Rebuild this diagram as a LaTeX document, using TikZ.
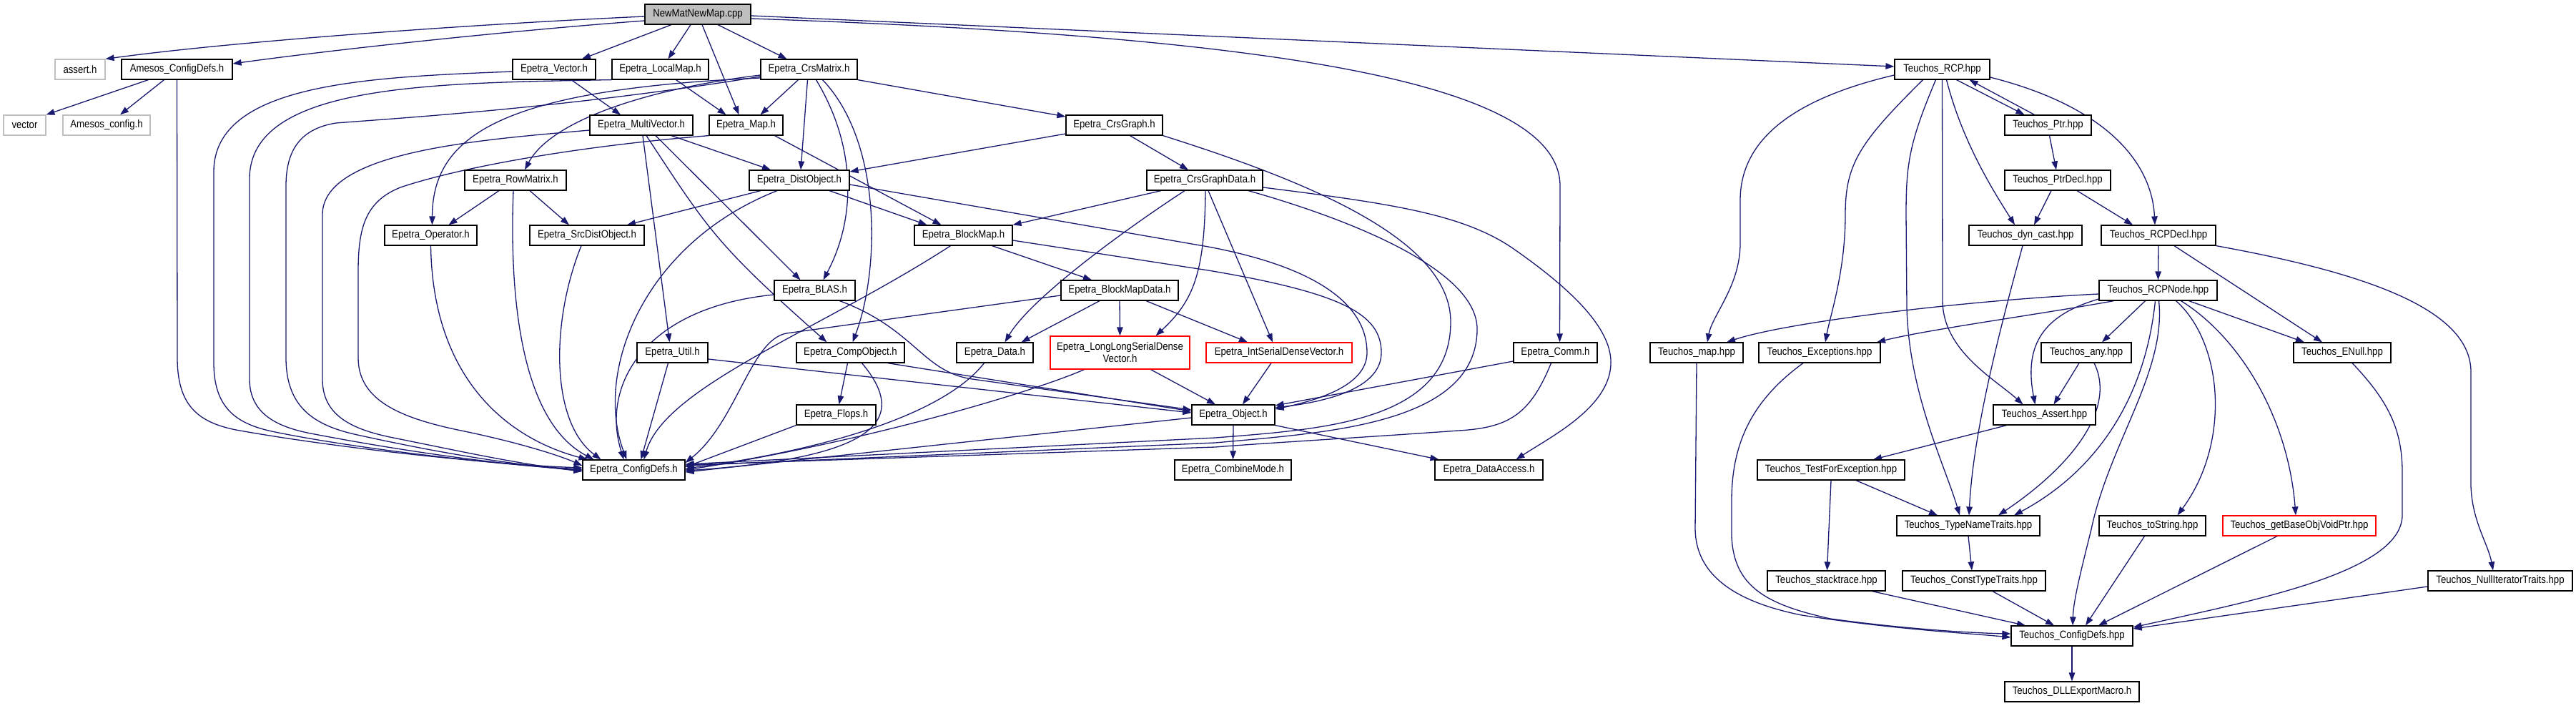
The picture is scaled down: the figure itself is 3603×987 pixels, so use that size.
\documentclass[tikz,border=0pt]{standalone}
\usepackage{fontspec}
\setmainfont{Liberation Sans}[FakeStretch=0.88]
\usetikzlibrary{arrows.meta}
\definecolor{edgeblue}{HTML}{191970}
\definecolor{rootgray}{HTML}{BFBFBF}
\definecolor{graybd}{HTML}{BFBFBF}
\definecolor{redbd}{HTML}{FF0000}
\pgfdeclarelayer{bg}
\pgfsetlayers{bg,main}
\tikzset{
  nd/.style={draw=black, line width=1.2pt, fill=white, minimum height=28pt, inner sep=0pt,
    font=\fontsize{15}{17}\selectfont, text=black},
  grynd/.style={nd, draw=graybd},
  rednd/.style={nd, draw=redbd},
  edg/.style={draw=edgeblue, line width=1.3pt, -{Triangle[length=12pt,width=8.5pt]}}
}
\begin{document}
\begin{tikzpicture}[x=1pt,y=-1pt]
\useasboundingbox (0,0) rectangle (3603,987);
% ---------- nodes ----------
\node[nd, fill=rootgray, minimum width=148pt] (root) at (976,20) {NewMatNewMap.cpp};
\node[grynd, minimum width=70pt] (assertH) at (112,97) {assert.h};
\node[nd, minimum width=155pt] (amesosCD) at (247.5,97) {Amesos\_ConfigDefs.h};
\node[nd, minimum width=116pt] (vectorH) at (775,97) {Epetra\_Vector.h};
\node[nd, minimum width=135pt] (localMap) at (923.5,97) {Epetra\_LocalMap.h};
\node[nd, minimum width=135pt] (crsMatrix) at (1131.5,97) {Epetra\_CrsMatrix.h};
\node[nd, minimum width=133pt] (rcp) at (2716.5,97) {Teuchos\_RCP.hpp};
\node[grynd, minimum width=59pt] (vector) at (34.5,175) {vector};
\node[grynd, minimum width=122pt] (amesosCfg) at (149,175) {Amesos\_config.h};
\node[nd, minimum width=144pt] (multiVector) at (897,175) {Epetra\_MultiVector.h};
\node[nd, minimum width=103pt] (map) at (1043.5,175) {Epetra\_Map.h};
\node[nd, minimum width=135pt] (crsGraph) at (1558.5,175) {Epetra\_CrsGraph.h};
\node[nd, minimum width=121pt] (ptr) at (2864.5,175) {Teuchos\_Ptr.hpp};
\node[nd, minimum width=142pt] (rowMatrix) at (721,252) {Epetra\_RowMatrix.h};
\node[nd, minimum width=140pt] (distObject) at (1118,252) {Epetra\_DistObject.h};
\node[nd, minimum width=162pt] (crsGraphData) at (1685,252) {Epetra\_CrsGraphData.h};
\node[nd, minimum width=148pt] (ptrDecl) at (2878,252) {Teuchos\_PtrDecl.hpp};
\node[nd, minimum width=129pt] (operator) at (602.5,329) {Epetra\_Operator.h};
\node[nd, minimum width=160pt] (srcDist) at (821,329) {Epetra\_SrcDistObject.h};
\node[nd, minimum width=137pt] (blockMap) at (1347.5,329) {Epetra\_BlockMap.h};
\node[nd, minimum width=158pt] (dynCast) at (2833,329) {Teuchos\_dyn\_cast.hpp};
\node[nd, minimum width=160pt] (rcpDecl) at (3019,329) {Teuchos\_RCPDecl.hpp};
\node[nd, minimum width=113pt] (blas) at (1139.5,406) {Epetra\_BLAS.h};
\node[nd, minimum width=164pt] (blockMapData) at (1566,406) {Epetra\_BlockMapData.h};
\node[nd, minimum width=165pt] (rcpNode) at (3018.5,406) {Teuchos\_RCPNode.hpp};
\node[nd, minimum width=99pt] (util) at (940.5,493) {Epetra\_Util.h};
\node[nd, minimum width=151pt] (compObject) at (1189.5,493) {Epetra\_CompObject.h};
\node[nd, minimum width=107pt] (data) at (1391.5,493) {Epetra\_Data.h};
\node[rednd, minimum width=195pt, minimum height=46pt, align=center] (longLong) at (1566.5,493) {Epetra\_LongLongSerialDense\\Vector.h};
\node[rednd, minimum width=204pt] (intSerial) at (1789,493) {Epetra\_IntSerialDenseVector.h};
\node[nd, minimum width=117pt] (comm) at (2175.5,493) {Epetra\_Comm.h};
\node[nd, minimum width=130pt] (tmap) at (2373,493) {Teuchos\_map.hpp};
\node[nd, minimum width=170pt] (exceptions) at (2545,493) {Teuchos\_Exceptions.hpp};
\node[nd, minimum width=126pt] (any) at (2918,493) {Teuchos\_any.hpp};
\node[nd, minimum width=136pt] (enull) at (3276,493) {Teuchos\_ENull.hpp};
\node[nd, minimum width=111pt] (flops) at (1169.5,580) {Epetra\_Flops.h};
\node[nd, minimum width=116pt] (object) at (1725,580) {Epetra\_Object.h};
\node[nd, minimum width=143pt] (tassert) at (2859.5,580) {Teuchos\_Assert.hpp};
\node[nd, minimum width=143pt] (epetraCD) at (886.5,657) {Epetra\_ConfigDefs.h};
\node[nd, minimum width=163pt] (combineMode) at (1724.5,657) {Epetra\_CombineMode.h};
\node[nd, minimum width=151pt] (dataAccess) at (2082.5,657) {Epetra\_DataAccess.h};
\node[nd, minimum width=206pt] (testForExc) at (2561,657) {Teuchos\_TestForException.hpp};
\node[nd, minimum width=200pt] (typeName) at (2753,735) {Teuchos\_TypeNameTraits.hpp};
\node[nd, minimum width=149pt] (toString) at (3010.5,735) {Teuchos\_toString.hpp};
\node[rednd, minimum width=214pt] (getBase) at (3216,735) {Teuchos\_getBaseObjVoidPtr.hpp};
\node[nd, minimum width=165pt] (stacktrace) at (2554.5,812) {Teuchos\_stacktrace.hpp};
\node[nd, minimum width=200pt] (constType) at (2761,812) {Teuchos\_ConstTypeTraits.hpp};
\node[nd, minimum width=202pt] (nullIter) at (3497,812) {Teuchos\_NullIteratorTraits.hpp};
\node[nd, minimum width=170pt] (teuchosCD) at (2898,889) {Teuchos\_ConfigDefs.hpp};
\node[nd, minimum width=188pt] (dll) at (2898,967) {Teuchos\_DLLExportMacro.h};
% ---------- edges ----------
\begin{pgfonlayer}{bg}
\fill[white] (0,0) rectangle (3603,987);
% root
\draw[edg] ([yshift=-3pt]root.west) .. controls (700,32) and (350,55) .. (assertH.north east);
\draw[edg] ([yshift=-9pt]root.west) .. controls (750,40) and (500,65) .. ([yshift=8pt]amesosCD.east);
\draw[edg] ([xshift=-37pt]root.south) -- ([xshift=39pt]vectorH.north);
\draw[edg] ([xshift=-10pt]root.south) -- ([xshift=11pt]localMap.north);
\draw[edg] ([xshift=6pt]root.south) -- ([xshift=-10pt]map.north);
\draw[edg] ([xshift=28pt]root.south) -- ([xshift=-31pt]crsMatrix.north);
\draw[edg] ([yshift=-2pt]root.east) -- ([yshift=4pt]rcp.west);
\draw[edg] ([yshift=-6pt]root.east) .. controls (1750,50) and (2182,110) .. (2182,260) -- ([xshift=6pt]comm.north);
% amesos
\draw[edg] ([xshift=-40pt]amesosCD.south) -- ([xshift=30pt]vector.north);
\draw[edg] ([xshift=-18pt]amesosCD.south) -- ([xshift=19pt]amesosCfg.north);
\draw[edg] (amesosCD.south) -- (248,500) .. controls (248,565) and (275,590) .. (330,601) .. controls (480,628) and (700,650) .. ([yshift=3pt]epetraCD.west);
% left bundle into Epetra_ConfigDefs
\draw[edg] ([yshift=-3pt]vectorH.west) .. controls (520,108) and (299,115) .. (299,240) -- (299,507) .. controls (299,570) and (330,592) .. (380,603) .. controls (500,628) and (700,650) .. ([yshift=1pt]epetraCD.west);
\draw[edg] (localMap.south west) .. controls (600,116) and (349,118) .. (349,250) -- (349,530) .. controls (349,580) and (390,598) .. (440,607) .. controls (560,630) and (700,650) .. (epetraCD.west);
\draw[edg] ([yshift=-10pt]crsMatrix.west) .. controls (800,150) and (560,165) .. (470,172) .. controls (420,180) and (400,210) .. (400,260) -- (400,500) .. controls (400,570) and (440,595) .. (500,608) .. controls (600,630) and (700,648) .. ([yshift=-1pt]epetraCD.west);
\draw[edg] ([yshift=-7pt]multiVector.west) .. controls (680,195) and (451,210) .. (451,300) -- (451,530) .. controls (451,580) and (490,600) .. (550,612) .. controls (640,630) and (720,648) .. ([yshift=-2pt]epetraCD.west);
\draw[edg] (map.south west) .. controls (800,205) and (640,235) .. (560,262) .. controls (510,282) and (501,320) .. (501,380) -- (501,500) .. controls (501,560) and (560,585) .. (650,603) .. controls (740,622) and (790,640) .. ([yshift=6pt]epetraCD.west);
% vector, localmap, crsmatrix
\draw[edg] ([xshift=24pt]vectorH.south) -- ([xshift=-29pt]multiVector.north);
\draw[edg] ([xshift=22pt]localMap.south) -- ([xshift=-28pt]map.north);
\draw[edg] ([xshift=-15pt]crsMatrix.south) -- ([xshift=20pt]map.north);
\draw[edg] ([xshift=-2pt]crsMatrix.south) -- ([xshift=2pt]distObject.north);
\draw[edg] (crsMatrix.south east) -- ([yshift=12pt]crsGraph.west);
\draw[edg] ([yshift=-8pt]crsMatrix.west) .. controls (900,125) and (770,170) .. ([xshift=13pt]rowMatrix.north);
\draw[edg] ([yshift=-12pt]crsMatrix.west) .. controls (700,125) and (605,190) .. ([xshift=2pt]operator.north);
\draw[edg] ([xshift=10pt]crsMatrix.south) .. controls (1195,200) and (1200,300) .. ([xshift=12pt]blas.north);
\draw[edg] ([xshift=19pt]crsMatrix.south) .. controls (1235,200) and (1230,380) .. ([xshift=3pt]compObject.north);
% multivector
\draw[edg] ([xshift=42pt]multiVector.south) -- ([xshift=-40pt]distObject.north);
\draw[edg] ([xshift=20pt]multiVector.south) -- ([xshift=-20pt]blas.north);
\draw[edg] ([xshift=2pt]multiVector.south) -- ([xshift=-4pt]util.north);
\draw[edg] ([xshift=7pt]multiVector.south) .. controls (990,320) and (1000,340) .. ([xshift=-33pt]compObject.north);
% map
\draw[edg] ([xshift=40pt]map.south) -- ([xshift=-31pt]blockMap.north);
% rowmatrix
\draw[edg] ([xshift=-23pt]rowMatrix.south) -- ([xshift=25pt]operator.north);
\draw[edg] ([xshift=20pt]rowMatrix.south) -- ([xshift=-25pt]srcDist.north);
\draw[edg] ([xshift=-3pt]rowMatrix.south) .. controls (712,420) and (730,590) .. ([xshift=-56pt]epetraCD.north);
% distobject
\draw[edg] ([xshift=-54pt]distObject.south) -- ([xshift=56pt]srcDist.north);
\draw[edg] ([xshift=42pt]distObject.south) -- ([xshift=-51pt]blockMap.north);
\draw[edg] ([yshift=-6pt]distObject.east) -- (1690,345) .. controls (1850,375) and (1912,430) .. (1912,493) .. controls (1912,540) and (1840,560) .. ([yshift=8pt]object.east);
\draw[edg] ([xshift=-31pt]distObject.south) .. controls (900,340) and (830,520) .. ([xshift=-10pt]epetraCD.north);
% srcdist, operator
\draw[edg] ([xshift=-8pt]srcDist.south) .. controls (770,450) and (770,590) .. ([xshift=-46pt]epetraCD.north);
\draw[edg] (operator.south) .. controls (605,520) and (700,610) .. ([xshift=-65pt]epetraCD.north);
% crsgraph
\draw[edg] ([yshift=-12pt]crsGraph.west) -- ([yshift=12pt]distObject.east);
\draw[edg] ([xshift=22pt]crsGraph.south) -- ([xshift=-23pt]crsGraphData.north);
\draw[edg] (crsGraph.south east) .. controls (1850,260) and (2029,340) .. (2029,450) .. controls (2029,590) and (1850,600) .. (1700,612) -- ([yshift=8pt]epetraCD.east);
% crsgraphdata
\draw[edg] ([xshift=-61pt]crsGraphData.south) -- (blockMap.north east);
\draw[edg] ([xshift=-28pt]crsGraphData.south) .. controls (1560,330) and (1440,420) .. ([xshift=14pt]data.north);
\draw[edg] ([xshift=1pt]crsGraphData.south) .. controls (1685,380) and (1670,420) .. ([xshift=50pt]longLong.north);
\draw[edg] ([xshift=5pt]crsGraphData.south) -- ([xshift=-9pt]intSerial.north);
\draw[edg] ([yshift=-10pt]crsGraphData.east) .. controls (1950,285) and (2050,300) .. (2120,350) .. controls (2220,420) and (2255,470) .. (2253,510) .. controls (2250,570) and (2170,610) .. ([xshift=38pt]dataAccess.north);
\draw[edg] ([xshift=61pt]crsGraphData.south) .. controls (1900,310) and (2066,380) .. (2066,460) .. controls (2066,595) and (1850,605) .. (1700,619) -- ([yshift=6pt]epetraCD.east);
% blockmap
\draw[edg] ([xshift=40pt]blockMap.south) -- ([xshift=-39pt]blockMapData.north);
\draw[edg] ([yshift=-7pt]blockMap.east) -- (1690,378) .. controls (1880,410) and (1932,440) .. (1932,493) .. controls (1932,545) and (1850,562) .. ([yshift=10pt]object.east);
\draw[edg] ([xshift=-18pt]blockMap.south) .. controls (1150,460) and (930,540) .. ([xshift=14pt]epetraCD.north);
% blas
\draw[edg] ([yshift=-6pt]blas.west) .. controls (900,430) and (840,540) .. ([xshift=-14pt]epetraCD.north);
\draw[edg] ([xshift=35pt]blas.south) .. controls (1280,460) and (1290,520) .. (1360,530) -- ([yshift=7pt]object.west);
% blockmapdata
\draw[edg] ([xshift=-28pt]blockMapData.south) -- ([xshift=37pt]data.north);
\draw[edg] (blockMapData.south) -- (longLong.north);
\draw[edg] ([xshift=37pt]blockMapData.south) -- ([xshift=-44pt]intSerial.north);
\draw[edg] ([yshift=-7pt]blockMapData.west) -- (1100,466) .. controls (1050,475) and (1030,590) .. ([yshift=10pt]epetraCD.east);
% util
\draw[edg] ([xshift=-6pt]util.south) -- ([xshift=10pt]epetraCD.north);
\draw[edg] ([yshift=-9pt]util.east) -- ([yshift=3pt]object.west);
% compobject
\draw[edg] ([xshift=-4pt]compObject.south) -- ([xshift=4pt]flops.north);
\draw[edg] ([xshift=52pt]compObject.south) -- ([yshift=5pt]object.west);
\draw[edg] ([xshift=16pt]compObject.south) .. controls (1275,590) and (1220,640) .. ([yshift=-1pt]epetraCD.east);
% data, longlong, intserial, flops
\draw[edg] ([xshift=-15pt]data.south) .. controls (1320,580) and (1150,630) .. ([yshift=2pt]epetraCD.east);
\draw[edg] ([xshift=43pt]longLong.south) -- ([xshift=-25pt]object.north);
\draw[edg] ([xshift=-50pt]longLong.south) .. controls (1440,550) and (1200,620) .. (epetraCD.east);
\draw[edg] ([xshift=-11pt]intSerial.south) -- ([xshift=13pt]object.north);
\draw[edg] (flops.south west) -- ([yshift=4pt]epetraCD.east);
% object
\draw[edg] (object.south) -- (combineMode.north);
\draw[edg] (object.south east) -- ([xshift=-70pt]dataAccess.north);
\draw[edg] ([yshift=-4pt]object.west) -- ([yshift=-3pt]epetraCD.east);
% comm
\draw[edg] ([yshift=-12pt]comm.west) -- ([yshift=13pt]object.east);
\draw[edg] ([xshift=-6pt]comm.south) .. controls (2140,580) and (2110,598) .. (2040,602) .. controls (1900,612) and (1760,620) .. (1700,625) -- ([yshift=7pt]epetraCD.east);
% ---------- Teuchos ----------
\draw[edg] ([xshift=20pt]rcp.south) -- ([xshift=-33pt]ptr.north);
\draw[edg] ([xshift=-19pt]ptr.north) -- ([xshift=38pt]rcp.south);
\draw[edg] ([xshift=6pt]rcp.south) .. controls (2745,200) and (2790,270) .. ([xshift=-15pt]dynCast.north);
\draw[edg] ([yshift=-11pt]rcp.east) .. controls (2950,150) and (3010,230) .. ([xshift=-5pt]rcpDecl.north);
\draw[edg] ([yshift=-8pt]rcp.west) .. controls (2500,140) and (2434,200) .. (2434,280) -- (2434,340) .. controls (2434,400) and (2395,440) .. ([xshift=15pt]tmap.north);
\draw[edg] ([xshift=-27pt]rcp.south) .. controls (2600,200) and (2581,230) .. (2581,300) .. controls (2581,380) and (2560,440) .. ([xshift=8pt]exceptions.north);
\draw[edg] ([xshift=-9pt]rcp.south) .. controls (2670,200) and (2666,230) .. (2666,300) -- (2667,430) .. controls (2670,550) and (2720,650) .. ([xshift=-12pt]typeName.north);
\draw[edg] (rcp.south) -- (2717,420) .. controls (2717,490) and (2790,530) .. ([xshift=-30pt]tassert.north);
\draw[edg] ([xshift=2pt]ptr.south) -- ([xshift=-2pt]ptrDecl.north);
\draw[edg] ([xshift=-9pt]ptrDecl.south) -- ([xshift=12pt]dynCast.north);
\draw[edg] ([xshift=27pt]ptrDecl.south) -- ([xshift=-36pt]rcpDecl.north);
\draw[edg] ([xshift=-4pt]dynCast.south) .. controls (2800,450) and (2760,600) .. ([xshift=1pt]typeName.north);
\draw[edg] (rcpDecl.south) -- (rcpNode.north);
\draw[edg] ([xshift=22pt]rcpDecl.south) -- ([xshift=-28pt]enull.north);
\draw[edg] (rcpDecl.south east) .. controls (3300,380) and (3456,430) .. (3456,520) -- (3456,680) .. controls (3458,730) and (3480,760) .. ([xshift=-10pt]nullIter.north);
\draw[edg] ([yshift=-5pt]rcpNode.west) .. controls (2750,420) and (2500,450) .. ([xshift=42pt]tmap.north);
\draw[edg] ([xshift=-62pt]rcpNode.south) .. controls (2850,440) and (2700,460) .. ([xshift=80pt]exceptions.north);
\draw[edg] ([xshift=-18pt]rcpNode.south) -- ([xshift=22pt]any.north);
\draw[edg] ([yshift=-12pt]rcpNode.west) .. controls (2860,440) and (2830,480) .. ([xshift=-13pt]tassert.north);
\draw[edg] ([xshift=-4pt]rcpNode.south) .. controls (3000,560) and (2930,660) .. ([xshift=64pt]typeName.north);
\draw[edg] ([xshift=25pt]rcpNode.south) .. controls (3110,480) and (3120,620) .. ([xshift=35pt]toString.north);
\draw[edg] ([xshift=32pt]rcpNode.south) .. controls (3130,470) and (3200,580) .. ([xshift=-5pt]getBase.north);
\draw[edg] ([xshift=43pt]rcpNode.south) -- ([xshift=-53pt]enull.north);
\draw[edg] ([xshift=1pt]rcpNode.south) .. controls (3030,520) and (2950,620) .. (2925,740) .. controls (2910,800) and (2900,840) .. ([xshift=1pt]teuchosCD.north);
\draw[edg] ([xshift=-10pt]any.south) -- ([xshift=13pt]tassert.north);
\draw[edg] ([xshift=11pt]any.south) .. controls (2960,570) and (2900,650) .. ([xshift=42pt]typeName.north);
\draw[edg] ([xshift=-53pt]tassert.south) -- ([xshift=59pt]testForExc.north);
\draw[edg] (testForExc.south) -- ([xshift=1pt]stacktrace.north);
\draw[edg] ([xshift=35pt]testForExc.south) -- ([xshift=-43pt]typeName.north);
\draw[edg] (typeName.south) -- ([xshift=-3pt]constType.north);
\draw[edg] (tmap.south) -- (2371,740) .. controls (2372,800) and (2420,840) .. (2520,860) .. controls (2650,880) and (2750,885) .. ([yshift=-2pt]teuchosCD.west);
\draw[edg] ([xshift=-23pt]exceptions.south) .. controls (2450,560) and (2422,620) .. (2422,700) -- (2422,750) .. controls (2425,820) and (2470,845) .. (2560,865) .. controls (2670,880) and (2760,885) .. ([yshift=3pt]teuchosCD.west);
\draw[edg] ([xshift=64pt]stacktrace.south) -- ([xshift=-65pt]teuchosCD.north);
\draw[edg] ([xshift=26pt]constType.south) -- ([xshift=-25pt]teuchosCD.north);
\draw[edg] ([xshift=-11pt]toString.south) -- ([xshift=19pt]teuchosCD.north);
\draw[edg] ([xshift=-31pt]getBase.south) -- ([xshift=37pt]teuchosCD.north);
\draw[edg] ([xshift=14pt]enull.south) .. controls (3340,560) and (3360,600) .. (3360,660) -- (3360,720) .. controls (3360,800) and (3150,840) .. ([yshift=12pt]teuchosCD.east);
\draw[edg] ([yshift=-8pt]nullIter.west) -- ([yshift=10pt]teuchosCD.east);
\draw[edg] (teuchosCD.south) -- (dll.north);
\end{pgfonlayer}
\end{tikzpicture}
\end{document}
